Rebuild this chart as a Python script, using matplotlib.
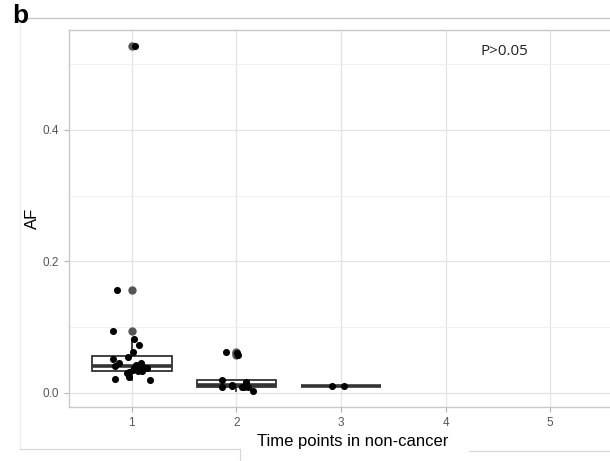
import numpy as np
import matplotlib.pyplot as plt
from matplotlib.lines import Line2D

# jittered points (x position, AF value) per time point
g1_x = [1.03, 0.86, 0.82, 1.02, 1.065, 1.01, 0.96, 0.816, 0.874, 0.84, 1.088, 1.10,
        1.04, 1.15, 1.10, 1.01, 0.976, 0.97, 0.84, 1.17, 1.02, 1.06, 0.95, 1.07]
g1_y = [0.528, 0.156, 0.094, 0.082, 0.073, 0.062, 0.055, 0.052, 0.046, 0.0415, 0.046, 0.0415,
        0.0426, 0.0385, 0.033, 0.035, 0.0315, 0.025, 0.022, 0.020, 0.038, 0.033, 0.030, 0.040]
g2_x = [1.898, 2.003, 2.016, 1.86, 1.86, 1.955, 1.955, 2.05, 2.09, 2.11, 2.075, 2.156, 2.09]
g2_y = [0.063, 0.061, 0.058, 0.019, 0.0096, 0.011, 0.012, 0.0096, 0.017, 0.0096, 0.0096, 0.003, 0.0157]
g3_x = [2.91, 3.03]
g3_y = [0.011, 0.011]

time_points = [1, 2, 3, 4, 5]
y_ticks = [0.0, 0.2, 0.4]
y_minor = [0.1, 0.3, 0.5]
p_text = 'P>0.05'

plt.rcParams['font.family'] = ['Liberation Sans', 'DejaVu Sans']

fig = plt.figure(figsize=(6.1, 4.61), dpi=100)
ax = fig.add_axes([69 / 610, 1 - 407 / 461, 544 / 610, 377 / 461])

# boxplots
bp = ax.boxplot([g1_y, g2_y, g3_y], positions=[1, 2, 3], widths=0.76,
                patch_artist=True, showcaps=False, whis=1.5,
                boxprops=dict(facecolor='white', edgecolor='#333333', lw=1.3),
                whiskerprops=dict(color='#333333', lw=1.3),
                medianprops=dict(color='#333333', lw=2.6),
                flierprops=dict(marker='o', markerfacecolor='#555555',
                                markeredgecolor='#555555', markersize=5))

# jittered points
for xs, ys in [(g1_x, g1_y), (g2_x, g2_y), (g3_x, g3_y)]:
    ax.scatter(xs, ys, s=26, color='black', zorder=4, linewidths=0)

# grid (theme_light style)
ax.set_xticks(time_points)
ax.set_xticklabels([str(t) for t in time_points])
ax.set_yticks(y_ticks)
ax.set_yticklabels(['0.0', '0.2', '0.4'])
ax.set_yticks(y_minor, minor=True)
ax.grid(True, which='major', color='#e3e3e3', lw=0.9)
ax.grid(True, which='minor', axis='y', color='#eeeeee', lw=0.6)
ax.set_axisbelow(True)

ax.set_xlim(0.4, 5.6)
ax.set_ylim(-0.0213, 0.552)

for sp in ax.spines.values():
    sp.set_color('#c8c8c8')
    sp.set_linewidth(1.0)
ax.tick_params(axis='both', which='major', colors='#b3b3b3', length=3.5, width=0.8,
               labelcolor='#555555', labelsize=8.5)
ax.tick_params(axis='y', which='minor', length=0)

ax.text(4.56, 0.519, p_text, ha='center', va='center', fontsize=11,
        family=['Open Sans', 'DejaVu Sans'], color='#222222')

# labels
fig.text(32 / 610, 1 - 218 / 461, 'AF', rotation=90, ha='center', va='center', fontsize=12)
fig.text(353 / 610, 1 - 441 / 461, 'Time points in non-cancer', ha='center', va='center',
         fontsize=12)
fig.text(12 / 610, 1 - 16 / 461, 'b', ha='left', va='center', fontsize=19, fontweight='bold')

# screenshot frame lines
line_c = '#d6d6d6'
fig.add_artist(Line2D([26 / 610, 1], [1 - 18 / 461] * 2, color='#c8c8c8', lw=1.0))
fig.add_artist(Line2D([20 / 610] * 2, [1 - 20 / 461, 1 - 449 / 461], color='#ececec', lw=0.8))
fig.add_artist(Line2D([20 / 610, 240 / 610], [1 - 449 / 461] * 2, color=line_c, lw=0.8))
fig.add_artist(Line2D([240 / 610] * 2, [1 - 449 / 461, 0], color=line_c, lw=0.8))
fig.add_artist(Line2D([469 / 610, 1], [1 - 451 / 461] * 2, color=line_c, lw=0.8))

fig.savefig('out.png', dpi=100)
